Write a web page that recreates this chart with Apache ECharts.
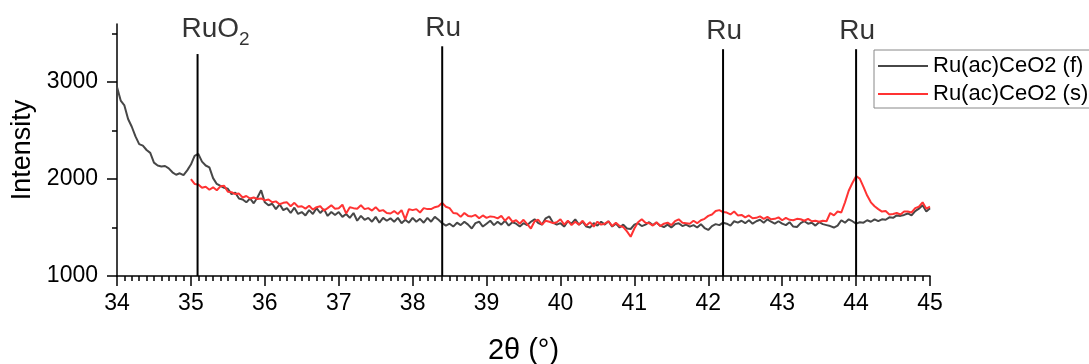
<!DOCTYPE html>
<html><head><meta charset="utf-8">
<script src="https://cdn.jsdelivr.net/npm/echarts@6/dist/echarts.min.js"></script>
<style>html,body{margin:0;padding:0;background:#fff}#c{width:1089px;height:364px}</style>
</head><body><div id="c"></div>
<script>
// measurement grid (2θ, degrees)
const startF = 34.0;
const startS = 35.0;
const step = 0.05;

// Ru(ac)CeO2 (f): 34.00 .. 45.00
const intensityF = [
  2950,2810,2760,2620,2540,2440,2360,2345,2300,2270,2170,2140,2130,2135,2110,2070,2045,2060,2040,2090,
  2150,2240,2260,2180,2140,2120,2010,1950,1930,1910,1900,1845,1860,1800,1790,1760,1800,1750,1810,1885,
  1760,1730,1745,1690,1740,1680,1700,1650,1705,1640,1660,1625,1680,1640,1700,1650,1690,1620,1660,1630,
  1660,1610,1640,1600,1650,1570,1620,1580,1600,1560,1610,1550,1600,1570,1595,1560,1600,1545,1580,1550,
  1600,1560,1590,1550,1600,1560,1610,1580,1545,1520,1540,1510,1550,1525,1560,1530,1490,1545,1560,1510,
  1540,1570,1525,1560,1530,1570,1520,1555,1540,1510,1545,1525,1560,1585,1545,1530,1595,1615,1550,1530,
  1545,1510,1565,1540,1585,1530,1560,1510,1500,1545,1520,1560,1530,1565,1510,1540,1500,1530,1490,1485,
  1530,1545,1515,1530,1555,1525,1550,1520,1505,1530,1500,1535,1545,1515,1530,1510,1525,1500,1535,1495,
  1475,1515,1535,1525,1550,1540,1520,1565,1550,1570,1545,1575,1540,1565,1580,1550,1585,1560,1540,1565,
  1540,1525,1555,1510,1505,1545,1565,1540,1550,1520,1555,1535,1525,1515,1500,1520,1575,1550,1585,1565,
  1540,1555,1550,1575,1560,1585,1565,1585,1580,1605,1600,1625,1620,1630,1645,1625,1670,1695,1730,1665,
  1700
];

// Ru(ac)CeO2 (s): 35.00 .. 45.00
const intensityS = [
  2000,1950,1945,1910,1920,1890,1915,1885,1925,1930,1870,1865,1845,1850,1810,1825,1800,1810,1795,1800,
  1780,1790,1760,1770,1740,1755,1760,1720,1755,1715,1720,1695,1725,1685,1710,1720,1675,1700,1730,1695,
  1700,1735,1645,1710,1700,1695,1730,1690,1700,1675,1710,1670,1680,1650,1645,1670,1640,1680,1585,1690,
  1680,1690,1655,1700,1690,1690,1710,1720,1755,1715,1700,1650,1645,1610,1650,1620,1615,1630,1595,1625,
  1600,1615,1610,1595,1620,1570,1610,1560,1575,1540,1580,1535,1490,1565,1580,1530,1570,1560,1545,1555,
  1585,1530,1570,1525,1560,1530,1570,1520,1555,1510,1560,1530,1540,1565,1515,1550,1515,1505,1460,1405,
  1490,1555,1585,1550,1545,1520,1555,1515,1540,1550,1525,1565,1585,1550,1545,1540,1570,1545,1575,1590,
  1620,1635,1670,1680,1660,1655,1635,1665,1625,1630,1605,1625,1595,1600,1615,1590,1610,1585,1590,1605,
  1575,1600,1580,1575,1590,1585,1570,1590,1565,1570,1560,1570,1565,1650,1625,1665,1655,1760,1880,1960,
  2030,2005,1920,1830,1760,1720,1690,1665,1670,1635,1640,1650,1635,1665,1665,1655,1700,1715,1760,1695,
  1715
];

const seriesNames = ['Ru(ac)CeO2 (f)', 'Ru(ac)CeO2 (s)'];

// reference reflections
const refAngles = [35.09, 38.40, 42.20, 44.00];
const refTops = [3290, 3370, 3340, 3340];
const refLabels = ['RuO{s|2}', 'Ru', 'Ru', 'Ru'];

// axis ticks
const xMin = 34, xMax = 45, xInterval = 1;
const yMin = 1000, yMax = 3600, yInterval = 1000;
const yTickValues = [1000, 2000, 3000];

const FONT = 'Liberation Sans, Arial, sans-serif';

const toPairs = (start, arr) => arr.map((v, i) => [+(start + i * step).toFixed(2), v]);

const refLineSeries = refAngles.map((a, i) => ({
  type: 'line',
  data: [[a, yMin], [a, refTops[i]]],
  symbol: 'none',
  silent: true,
  z: 5,
  lineStyle: { color: '#000', width: 2 }
}));

const labelSeries = {
  type: 'scatter',
  symbolSize: 0,
  silent: true,
  z: 6,
  data: refAngles.map((a, i) => ({
    value: [a, refTops[i]],
    label: {
      show: true,
      position: 'top',
      distance: i === 0 ? 5 : 3,
      offset: i === 0 ? [18, 0] : [1, 0],
      formatter: refLabels[i],
      fontSize: 28,
      lineHeight: i === 0 ? 40 : 30,
      fontFamily: FONT,
      color: '#000',
      rich: { s: { fontSize: 19, lineHeight: 19, fontFamily: FONT, color: '#000', verticalAlign: 'bottom' } }
    }
  }))
};

const axisCommon = {
  axisLine: { show: true, onZero: false, lineStyle: { color: '#000', width: 1.5 } },
  splitLine: { show: false },
  minorSplitLine: { show: false }
};

const chart = echarts.init(document.getElementById('c'), null, { renderer: 'canvas' });
chart.setOption({
  animation: false,
  backgroundColor: '#fff',
  textStyle: { fontFamily: FONT },
  grid: { left: 117, right: 159, top: 24, bottom: 88, containLabel: false, outerBoundsMode: 'none' },
  legend: {
    data: seriesNames,
    orient: 'vertical',
    left: 874, top: 50,
    padding: [5, 12, 3, 3],
    itemWidth: 50, itemHeight: 14, itemGap: 6,
    borderColor: '#888', borderWidth: 1,
    itemStyle: { opacity: 0 },
    textStyle: { fontSize: 22, color: '#000', fontFamily: FONT }
  },
  xAxis: Object.assign({}, axisCommon, {
    type: 'value', min: xMin, max: xMax, interval: xInterval,
    name: '2θ (°)', nameLocation: 'middle', nameGap: 60,
    nameTextStyle: { fontSize: 29, color: '#000', fontFamily: FONT },
    axisTick: { show: true, length: 10, lineStyle: { color: '#000', width: 1.5 } },
    minorTick: { show: true, splitNumber: 10, length: 5, lineStyle: { color: '#000', width: 1.5 } },
    axisLabel: { fontSize: 23, color: '#000', margin: 16, fontFamily: FONT }
  }),
  yAxis: Object.assign({}, axisCommon, {
    type: 'value', min: yMin, max: yMax, interval: yInterval,
    name: 'Intensity', nameLocation: 'middle', nameGap: 76,
    nameTextStyle: { fontSize: 27, color: '#000', fontFamily: FONT },
    axisTick: { show: true, length: 10, customValues: yTickValues, lineStyle: { color: '#000', width: 1.5 } },
    minorTick: { show: true, splitNumber: 2, length: 5, lineStyle: { color: '#000', width: 1.5 } },
    axisLabel: { fontSize: 23, color: '#000', margin: 19, fontFamily: FONT, customValues: yTickValues,
      formatter: v => String(v) }
  }),
  series: [
    { name: seriesNames[0], type: 'line', data: toPairs(startF, intensityF), symbol: 'none', z: 3,
      color: '#474747', lineStyle: { color: '#474747', width: 2 } },
    { name: seriesNames[1], type: 'line', data: toPairs(startS, intensityS), symbol: 'none', z: 4,
      color: '#ff3333', lineStyle: { color: '#ff3333', width: 2 } }
  ].concat(refLineSeries, [labelSeries])
});
</script>
</body></html>
